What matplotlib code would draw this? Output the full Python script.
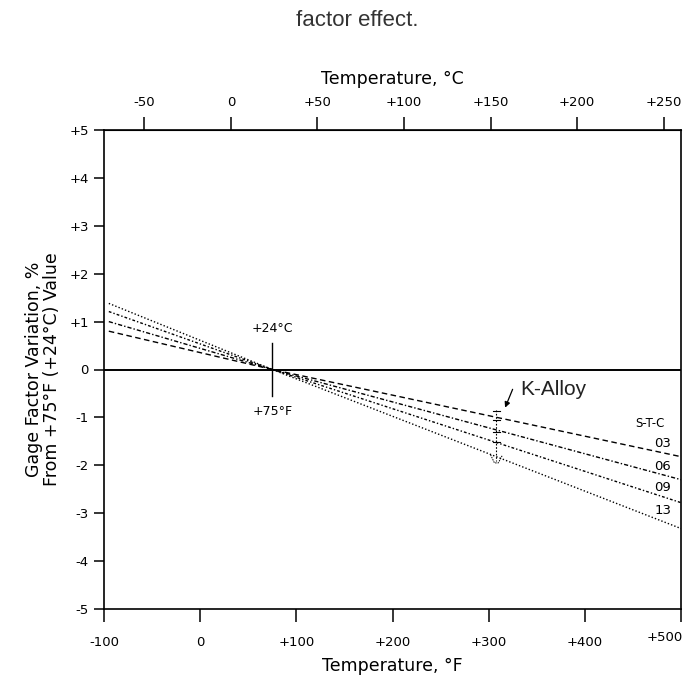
import matplotlib
matplotlib.use("Agg")
import matplotlib.pyplot as plt
import matplotlib.transforms as mtransforms
import numpy as np

plt.rcParams['font.family'] = ['DejaVu Sans']

# Data
temp_f = [-95, 75, 500]
series_names = ["03", "06", "09", "13"]
series_values = {
    "03": [0.80, 0.0, -1.82],
    "06": [1.00, 0.0, -2.30],
    "09": [1.21, 0.0, -2.78],
    "13": [1.38, 0.0, -3.32],
}
series_dashes = {
    "03": (4, 2.5),
    "06": (3, 1.5, 1, 1.5),
    "09": (2, 1.5, 1, 1.5),
    "13": (1, 1.5),
}
label_y = {"03": -1.54, "06": -2.02, "09": -2.46, "13": -2.94}

yticks = [5, 4, 3, 2, 1, 0, -1, -2, -3, -4, -5]
ytick_labels = ["+5", "+4", "+3", "+2", "+1", "0", "-1", "-2", "-3", "-4", "-5"]
xticks_f = [-100, 0, 100, 200, 300, 400, 500]
xtick_labels_f = ["-100", "0", "+100", "+200", "+300", "+400", "+500"]
xticks_c = [-50, 0, 50, 100, 150, 200, 250]
xtick_labels_c = ["-50", "0", "+50", "+100", "+150", "+200", "+250"]

TICK_FS = 9.5

fig = plt.figure(figsize=(6.96, 6.84), dpi=100)
ax = fig.add_axes([104/696, 1-609/684, (681-104)/696, (609-130)/684])

for name in series_names:
    ax.plot(temp_f, series_values[name], color="black", lw=1.0,
            dashes=series_dashes[name])
    ax.text(481, label_y[name], name, fontsize=TICK_FS, ha="center", va="center")

ax.text(468, -1.12, "S-T-C", fontsize=8.5, ha="center", va="center")

# zero reference line
ax.axhline(0, color="black", lw=1.4)
# +75F marker
ax.plot([75, 75], [0.55, -0.55], color="black", lw=1.0)
ax.text(75, 0.85, "+24°C", fontsize=9, ha="center", va="center")
ax.text(75, -0.88, "+75°F", fontsize=9, ha="center", va="center")

# K-Alloy annotation
ax.plot([308, 308], [-0.85, -1.9], color="black", lw=0.8, dashes=(1.5, 1.5))
for yy in [-0.86, -1.05, -1.3, -1.52]:
    ax.plot([304, 312], [yy, yy], color="black", lw=0.8)
ax.plot([302, 306, 310, 314], [-1.78, -1.95, -1.95, -1.8], color="black", lw=0.7,
        dashes=(1.5, 1))
ax.annotate("", xy=(316, -0.85), xytext=(326, -0.36),
            arrowprops=dict(arrowstyle="-|>", color="black", lw=0.9,
                            mutation_scale=8))
ax.text(333, -0.42, "K-Alloy", fontsize=15, ha="left", va="center",
        family="Liberation Sans", color="#222222")

ax.set_xlim(-100, 500)
ax.set_ylim(-5, 5)
ax.set_yticks(yticks)
ax.set_yticklabels(ytick_labels)
ax.set_xticks(xticks_f)
ax.set_xticklabels(xtick_labels_f)
ax.tick_params(axis="y", direction="out", length=7, width=1.1, labelsize=TICK_FS, pad=4)
ax.tick_params(axis="x", direction="out", length=9.4, width=1.1, labelsize=TICK_FS, pad=10)
for sp in ax.spines.values():
    sp.set_linewidth(1.2)

# last bottom label sits left of its tick and a little higher, as in the reference
last = ax.get_xticklabels()[-1]
last.set_horizontalalignment("right")
last.set_transform(last.get_transform() +
                   mtransforms.ScaledTranslation(0.02, 0.05, fig.dpi_scale_trans))

ax.set_xlabel("Temperature, °F", fontsize=12.5, labelpad=6)
ax.set_ylabel("Gage Factor Variation, %\nFrom +75°F (+24°C) Value",
              fontsize=12.5, labelpad=6, linespacing=1.0)

f2c = lambda f: (np.asarray(f) - 32) * 5 / 9
c2f = lambda c: np.asarray(c) * 9 / 5 + 32
top = ax.secondary_xaxis("top", functions=(f2c, c2f))
top.set_xticks(xticks_c)
top.set_xticklabels(xtick_labels_c)
top.tick_params(direction="out", length=9.4, width=1.1, labelsize=TICK_FS, pad=6)
top.set_xlabel("Temperature, °C", fontsize=12.5, labelpad=8)

fig.text(357/696, 1-20/684, "factor effect.", fontsize=16, color="#333333",
         ha="center", va="center", family="Liberation Sans")

fig.savefig("out.png", dpi=100)
